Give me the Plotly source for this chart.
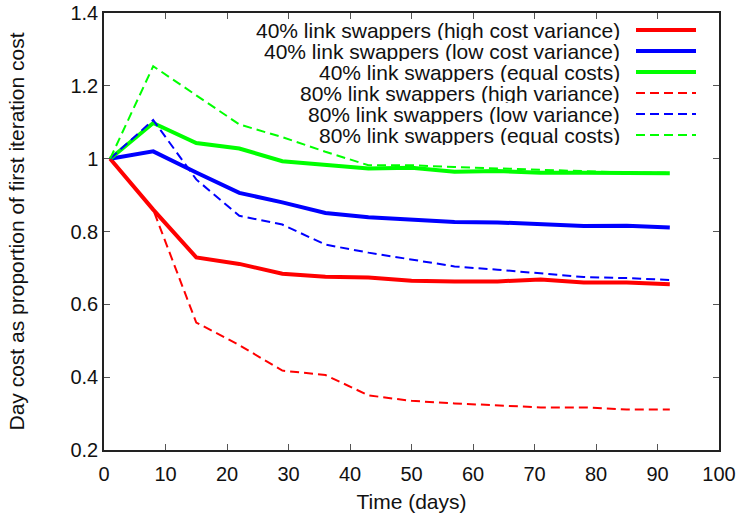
import plotly.graph_objects as go

# ---- data ----
days = [1, 8, 15, 22, 29, 36, 43, 50, 57, 64, 71, 78, 85, 92]

high40 = [1, 0.86, 0.729, 0.711, 0.684, 0.676, 0.674, 0.665, 0.663, 0.663, 0.668, 0.660, 0.660, 0.655]
low40 = [1, 1.02, 0.962, 0.906, 0.880, 0.851, 0.839, 0.832, 0.826, 0.825, 0.819, 0.815, 0.816, 0.811]
equal40 = [1, 1.098, 1.043, 1.028, 0.993, 0.984, 0.973, 0.975, 0.964, 0.966, 0.961, 0.961, 0.960, 0.960]
high80 = [1, 0.86, 0.550, 0.488, 0.418, 0.406, 0.350, 0.335, 0.328, 0.323, 0.317, 0.317, 0.311, 0.311]
low80 = [1, 1.106, 0.943, 0.843, 0.819, 0.764, 0.742, 0.722, 0.704, 0.695, 0.684, 0.675, 0.672, 0.667]
equal80 = [1, 1.254, 1.174, 1.094, 1.059, 1.019, 0.982, 0.982, 0.977, 0.973, 0.968, 0.964, 0.962, 0.961]

series_names = [
    "40% link swappers (high cost variance)",
    "40% link swappers (low cost variance)",
    "40% link swappers (equal costs)",
    "80% link swappers (high variance)",
    "80% link swappers (low variance)",
    "80% link swappers (equal costs)",
]
series_values = [high40, low40, equal40, high80, low80, equal80]

x_tick_vals = [0, 10, 20, 30, 40, 50, 60, 70, 80, 90, 100]
y_tick_vals = [0.2, 0.4, 0.6, 0.8, 1.0, 1.2, 1.4]
y_tick_labels = ["0.2", "0.4", "0.6", "0.8", "1", "1.2", "1.4"]

# ---- styles ----
colors = ["#ff0000", "#0000ff", "#00ff00", "#ff0000", "#0000ff", "#00ff00"]
dashes = ["solid", "solid", "solid", "9px,5px", "9px,5px", "9px,5px"]
widths = [4, 4, 4, 2, 2, 2]
FONT = "Liberation Sans, Arial, Helvetica, sans-serif"

fig = go.Figure()
for name, vals, c, d, w in zip(series_names, series_values, colors, dashes, widths):
    fig.add_trace(go.Scatter(
        x=days, y=vals, mode="lines", name=name, showlegend=False,
        line=dict(color=c, width=w, dash=d),
    ))

# ---- gnuplot-style key: right-aligned text with sample on the right ----
W, H = 742, 515
ML, MR, MT, MB = 104, 23, 13, 65
pw, ph = W - ML - MR, H - MT - MB

def px_x(px):
    return (px - ML) / pw

def px_y(py):
    return (H - MB - py) / ph

annotations = []
shapes = []
row0, row_step = 30, 21
for i, (name, c, d, w) in enumerate(zip(series_names, colors, dashes, widths)):
    yy = px_y(row0 + i * row_step)
    annotations.append(dict(
        x=px_x(622), y=yy, xref="paper", yref="paper", text=name,
        showarrow=False, xanchor="right", yanchor="middle", height=20,
        font=dict(family=FONT, size=21, color="#111"),
    ))
    shapes.append(dict(
        type="line", xref="paper", yref="paper",
        x0=px_x(636), x1=px_x(696), y0=yy, y1=yy,
        line=dict(color=c, width=w, dash=d),
    ))

axis_common = dict(
    showline=True, linecolor="#222", linewidth=1.5, mirror="allticks",
    ticks="inside", ticklen=6, tickwidth=1, tickcolor="#555",
    showgrid=False, zeroline=False, automargin=False,
    tickfont=dict(family=FONT, size=20, color="#111"),
)

fig.update_layout(
    width=W, height=H,
    margin=dict(l=ML, r=MR, t=MT, b=MB),
    paper_bgcolor="white", plot_bgcolor="white",
    font=dict(family=FONT, color="#111"),
    xaxis=dict(
        range=[0, 100], tickvals=x_tick_vals, ticklabelstandoff=5,
        title=dict(text="Time (days)", font=dict(family=FONT, size=21), standoff=11),
        **axis_common,
    ),
    yaxis=dict(
        range=[0.2, 1.4], tickvals=y_tick_vals, ticktext=y_tick_labels,
        title=dict(text="Day cost as proportion of first iteration cost",
                   font=dict(family=FONT, size=21), standoff=40),
        **axis_common,
    ),
    annotations=annotations,
    shapes=shapes,
)

fig.write_html("out.html")
